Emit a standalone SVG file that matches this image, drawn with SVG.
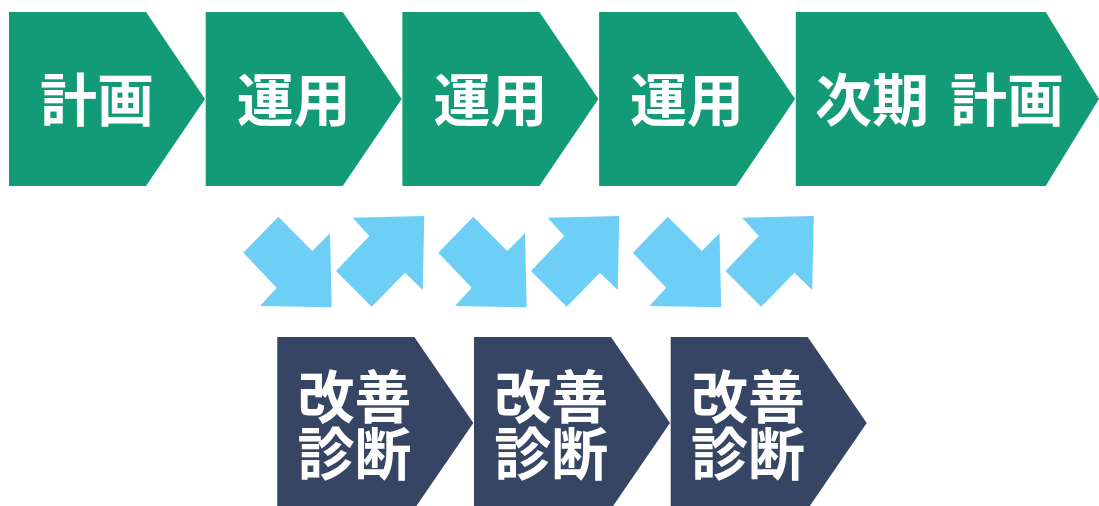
<svg xmlns="http://www.w3.org/2000/svg" width="1099" height="506" viewBox="0 0 1099 506">
<style>
.g{fill:#129b76}
.n{fill:#364563}
.b{fill:#6dcff6}
text{font-family:"Noto Sans CJK JP","Noto Sans CJK SC",sans-serif;font-weight:700;font-size:57px;fill:#ffffff}
</style>
<defs>
<path id="dr" d="M243.3,252.7 L278.3,216.7 L312.3,251 L330,233.3 L331.7,307.3 L260,306 L276.7,287.7 Z"/>
<path id="ur" d="M352.7,217.7 L424.3,216 L422.7,290 L405,272.7 L371.7,306.7 L336,271 L369.3,236 Z"/>
</defs>
<g id="plan1"><path class="g" d="M9,12 H146 L205,99 L146,186 H9 Z"/><text x="40" y="121">計画</text></g>
<g id="op1"><path class="g" d="M205.7,12 H342.7 L401.7,99 L342.7,186 H205.7 Z"/><text x="236.7" y="121">運用</text></g>
<g id="op2"><path class="g" d="M402.4,12 H539.4 L598.4,99 L539.4,186 H402.4 Z"/><text x="433.4" y="121">運用</text></g>
<g id="op3"><path class="g" d="M599.1,12 H736.1 L795.1,99 L736.1,186 H599.1 Z"/><text x="630.1" y="121">運用</text></g>
<g id="plan2"><path class="g" d="M795.8,12 H1045.7 L1099,99 L1045.7,186 H795.8 Z"/><text x="815" y="121">次期 <tspan x="950">計画</tspan></text></g>
<g id="diag1"><path class="n" d="M277.3,337 H414.3 L473.3,423 L414.3,509 H277.3 Z"/><text x="297.5" y="417.5">改善</text><text x="297.5" y="474.5">診断</text></g>
<g id="diag2"><path class="n" d="M474,337 H611 L670,423 L611,509 H474 Z"/><text x="494.2" y="417.5">改善</text><text x="494.2" y="474.5">診断</text></g>
<g id="diag3"><path class="n" d="M670.7,337 H807.7 L866.7,423 L807.7,509 H670.7 Z"/><text x="690.9" y="417.5">改善</text><text x="690.9" y="474.5">診断</text></g>
<g id="connectors" class="b">
<use href="#dr"/>
<use href="#ur"/>
<use href="#dr" transform="translate(195,0)"/>
<use href="#ur" transform="translate(195,0)"/>
<use href="#dr" transform="translate(389.5,0)"/>
<use href="#ur" transform="translate(389.5,0)"/>
</g>
</svg>
